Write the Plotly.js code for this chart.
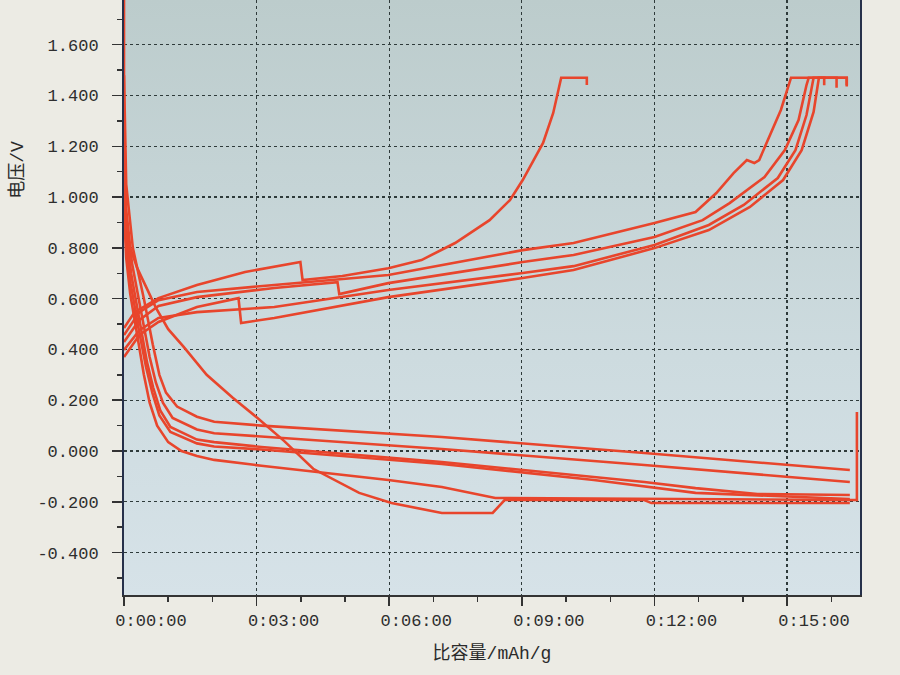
<!DOCTYPE html>
<html>
<head>
<meta charset="utf-8">
<script src="https://cdn.plot.ly/plotly-3.0.1.min.js"></script>
<style>
  html, body { margin: 0; padding: 0; background: #ecebe4; }
  #chart { width: 900px; height: 675px; }
</style>
</head>
<body>
<div id="chart"></div>
<script>
// ---- Data (specific capacity axis shown as h:mm:ss, in minutes; voltage in V) ----
const xTickVals = [0, 3, 6, 9, 12, 15];
const xTickText = ["0:00:00", "0:03:00", "0:06:00", "0:09:00", "0:12:00", "0:15:00"];
const yTickVals = [-0.4, -0.2, 0, 0.2, 0.4, 0.6, 0.8, 1.0, 1.2, 1.4, 1.6];
const yTickText = ["-0.400", "-0.200", "0.000", "0.200", "0.400", "0.600", "0.800", "1.000", "1.200", "1.400", "1.600"];

// Charge curves
const charge1X = [0, 0.35, 0.78, 1.65, 3.40, 5.98, 9.02, 10.17, 12.0, 12.93, 13.40, 13.79, 14.09, 14.26, 14.37, 14.63, 14.86, 14.98, 15.09, 16.35, 16.35];
const charge1Y = [0.457, 0.547, 0.594, 0.626, 0.654, 0.693, 0.791, 0.819, 0.898, 0.941, 1.016, 1.094, 1.146, 1.134, 1.146, 1.252, 1.343, 1.409, 1.47, 1.47, 1.435];

const charge2X = [0, 0.35, 0.78, 1.65, 3.40, 4.83, 4.87, 5.98, 9.02, 10.17, 12.0, 13.09, 13.70, 14.49, 14.95, 15.26, 15.44, 15.49, 16.12, 16.12];
const charge2Y = [0.429, 0.516, 0.571, 0.606, 0.642, 0.665, 0.618, 0.661, 0.744, 0.772, 0.843, 0.909, 0.976, 1.079, 1.185, 1.303, 1.441, 1.47, 1.47, 1.43];

const charge3X = [0, 0.35, 0.78, 1.65, 3.40, 5.98, 9.02, 10.17, 12.0, 13.23, 14.02, 14.79, 15.19, 15.44, 15.60, 16.35, 16.35];
const charge3Y = [0.398, 0.476, 0.524, 0.547, 0.567, 0.634, 0.701, 0.728, 0.811, 0.890, 0.969, 1.075, 1.185, 1.323, 1.47, 1.47, 1.44];

const charge4X = [0, 0.35, 0.78, 1.65, 2.59, 2.65, 3.40, 5.98, 9.02, 10.17, 12.0, 13.23, 14.16, 14.91, 15.33, 15.60, 15.72, 15.84, 15.84];
const charge4Y = [0.370, 0.457, 0.508, 0.567, 0.602, 0.504, 0.524, 0.606, 0.681, 0.713, 0.799, 0.870, 0.961, 1.067, 1.185, 1.335, 1.47, 1.47, 1.44];

const charge5X = [0, 0.24, 0.78, 1.65, 2.74, 3.99, 4.04, 4.94, 5.98, 6.73, 7.49, 8.27, 8.73, 9.02, 9.48, 9.71, 9.89, 10.47, 10.47];
const charge5Y = [0.484, 0.547, 0.602, 0.654, 0.705, 0.744, 0.673, 0.689, 0.720, 0.752, 0.819, 0.909, 0.988, 1.067, 1.213, 1.331, 1.47, 1.47, 1.441];

// Discharge curves
const discharge1X = [0, 0, 0.3, 0.72, 1.0, 1.35, 1.87, 2.46, 3.02, 3.62, 4.28, 5.32, 6.05, 7.19, 8.34, 8.45, 8.61, 11.77, 11.93, 16.42];
const discharge1Y = [1.80, 0.870, 0.72, 0.565, 0.48, 0.41, 0.30, 0.21, 0.13, 0.04, -0.07, -0.165, -0.205, -0.244, -0.244, -0.224, -0.193, -0.193, -0.205, -0.205];

const discharge2X = [0, 0.05, 0.2, 0.45, 0.65, 0.8, 0.95, 1.2, 1.65, 2.04, 3.11, 7.19, 11.77, 16.42];
const discharge2Y = [1.48, 1.05, 0.80, 0.60, 0.42, 0.30, 0.23, 0.175, 0.135, 0.115, 0.10, 0.055, -0.008, -0.075];

const discharge3X = [0, 0.05, 0.18, 0.38, 0.58, 0.72, 0.88, 1.1, 1.65, 2.04, 3.11, 7.19, 11.77, 16.42];
const discharge3Y = [1.30, 0.95, 0.74, 0.55, 0.37, 0.27, 0.19, 0.13, 0.085, 0.07, 0.057, 0.008, -0.055, -0.122];

const discharge4X = [0, 0.05, 0.16, 0.34, 0.52, 0.66, 0.82, 1.05, 1.65, 2.04, 3.11, 7.19, 11.77, 12.93, 14.33, 16.42];
const discharge4Y = [1.13, 0.88, 0.70, 0.52, 0.35, 0.25, 0.16, 0.095, 0.045, 0.035, 0.016, -0.043, -0.122, -0.146, -0.169, -0.173];

const discharge5X = [0, 0.05, 0.15, 0.32, 0.5, 0.64, 0.8, 1.05, 1.65, 2.04, 3.11, 7.19, 10.63, 12.93, 16.42];
const discharge5Y = [1.03, 0.82, 0.66, 0.49, 0.33, 0.23, 0.14, 0.075, 0.03, 0.018, 0.006, -0.051, -0.114, -0.165, -0.189];

const discharge6X = [0, 0.05, 0.14, 0.3, 0.45, 0.58, 0.75, 1.0, 1.3, 1.65, 2.04, 3.11, 5.98, 7.19, 8.40, 16.42, 16.58, 16.58];
const discharge6Y = [0.95, 0.76, 0.62, 0.45, 0.30, 0.19, 0.10, 0.035, 0.0, -0.02, -0.035, -0.058, -0.114, -0.142, -0.185, -0.193, -0.193, 0.154];

const seriesList = [
  [charge1X, charge1Y], [charge2X, charge2Y], [charge3X, charge3Y],
  [charge4X, charge4Y], [charge5X, charge5Y],
  [discharge1X, discharge1Y], [discharge2X, discharge2Y], [discharge3X, discharge3Y],
  [discharge4X, discharge4Y], [discharge5X, discharge5Y], [discharge6X, discharge6Y]
];

const lineColor = "#e8452c";
const traces = seriesList.map(([xs, ys]) => ({
  x: xs, y: ys, type: "scatter", mode: "lines",
  line: { color: lineColor, width: 2.6 },
  showlegend: false, hoverinfo: "skip"
}));

const tickFont = { family: "Liberation Mono, DejaVu Sans Mono, monospace", size: 17, color: "#2e2e2e" };
const titleFont = { family: "Liberation Mono, Noto Sans CJK SC, monospace", size: 18, color: "#2a2a2a" };

const bgGradient = "data:image/svg+xml;utf8," + encodeURIComponent(
  '<svg xmlns="http://www.w3.org/2000/svg" width="10" height="100" preserveAspectRatio="none">' +
  '<defs><linearGradient id="g" x1="0" y1="0" x2="0" y2="1">' +
  '<stop offset="0" stop-color="#bccccc"/><stop offset="0.6" stop-color="#cddbdf"/><stop offset="1" stop-color="#d6e2e8"/>' +
  '</linearGradient></defs><rect width="10" height="100" fill="url(#g)"/></svg>');

const layout = {
  width: 900, height: 675,
  paper_bgcolor: "#ecebe4",
  plot_bgcolor: "#cddbdf",
  margin: { l: 124, r: 40, t: 0, b: 80 },
  showlegend: false,
  images: [{
    source: bgGradient, xref: "paper", yref: "paper",
    x: 0, y: 1, sizex: 1, sizey: 1, sizing: "stretch",
    xanchor: "left", yanchor: "top", layer: "below"
  }],
  xaxis: {
    range: [0, 16.65],
    tickmode: "array", tickvals: xTickVals, ticktext: xTickText,
    tickfont: tickFont,
    ticklabelshift: 27,
    ticks: "outside", ticklen: 9, tickwidth: 1.5, tickcolor: "#333",
    showline: true, linecolor: "#333", linewidth: 2, mirror: true,
    showgrid: true, gridcolor: "#2e3a3a", griddash: "dot", gridwidth: 1.2,
    zeroline: false,
    minor: { tickmode: "linear", tick0: 0, dtick: 1, ticks: "outside", ticklen: 5, tickcolor: "#333", showgrid: false },
    title: { text: "比容量/mAh/g", font: titleFont, standoff: 16 }
  },
  yaxis: {
    range: [-0.567, 1.776],
    tickmode: "array", tickvals: yTickVals, ticktext: yTickText,
    tickfont: tickFont,
    ticks: "outside", ticklen: 10, tickwidth: 1.5, tickcolor: "#333",
    showline: true, linecolor: "#26304a", linewidth: 2, mirror: true,
    showgrid: true, gridcolor: "#2e3a3a", griddash: "dot", gridwidth: 1.2,
    zeroline: false,
    ticklabelstandoff: 10,
    minor: { tickmode: "linear", tick0: 0, dtick: 0.1, ticks: "outside", ticklen: 5, tickcolor: "#333", showgrid: false }
  },
  annotations: [{
    text: "电压/V", xref: "paper", yref: "paper",
    x: -0.145, y: 0.715, xanchor: "center", yanchor: "middle",
    textangle: -90, showarrow: false,
    font: titleFont
  }]
};

Plotly.newPlot("chart", traces, layout, { staticPlot: true, displayModeBar: false });
</script>
</body>
</html>
